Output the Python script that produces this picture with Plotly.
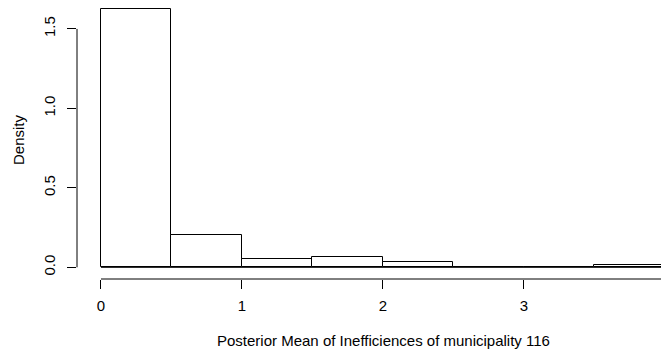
import plotly.graph_objects as go

# Histogram data (bins of width 0.5)
breaks = [0.0, 0.5, 1.0, 1.5, 2.0, 2.5, 3.0, 3.5, 4.0]
density = [1.626, 0.205, 0.050, 0.067, 0.036, 0.0, 0.0, 0.017]
x_ticks = [0, 1, 2, 3, 4]
y_ticks = [0.0, 0.5, 1.0, 1.5]
y_tick_labels = ["0.0", "0.5", "1.0", "1.5"]
x_title = "Posterior Mean of Inefficiences of municipality 116"
y_title = "Density"

centers = [(breaks[i] + breaks[i + 1]) / 2 for i in range(len(density))]
widths = [breaks[i + 1] - breaks[i] for i in range(len(density))]

FONT = "Liberation Sans, Arial, Helvetica, sans-serif"
FS = 15
XR = [-0.17, 3.972]
YR = [-0.0735, 1.682]

fig = go.Figure()
fig.add_trace(go.Bar(
    x=centers, y=density, width=widths,
    marker=dict(color="white", line=dict(color="black", width=1)),
    showlegend=False, hoverinfo="x+y",
))

# baseline (zero-height bins in R still draw their bottom edge)
fig.add_shape(type="line", xref="x", yref="y",
              x0=breaks[0], x1=breaks[-1], y0=0, y1=0,
              line=dict(color="black", width=1), layer="above")
# R-style axis lines spanning only the tick range
fig.add_shape(type="line", xref="paper", yref="paper",
              x0=(x_ticks[0] - XR[0]) / (XR[1] - XR[0]),
              x1=(x_ticks[-1] - XR[0]) / (XR[1] - XR[0]),
              y0=0, y1=0,
              line=dict(color="black", width=1))
fig.add_shape(type="line", xref="paper", yref="y",
              x0=0, x1=0, y0=y_ticks[0], y1=y_ticks[-1],
              line=dict(color="black", width=1))

fig.update_layout(
    width=661, height=355,
    margin=dict(l=77, r=0, t=0, b=76),
    paper_bgcolor="white", plot_bgcolor="white",
    font=dict(family=FONT, size=FS, color="black"),
    bargap=0,
    xaxis=dict(
        range=XR, showgrid=False, zeroline=False, showline=False,
        tickvals=x_ticks, ticktext=[str(t) for t in x_ticks],
        ticks="outside", ticklen=9, tickcolor="black", tickwidth=1,
        ticklabelstandoff=4,
        tickfont=dict(size=FS, family=FONT),
    ),
    yaxis=dict(
        range=YR, showgrid=False, zeroline=False, showline=False,
        tickvals=y_ticks, ticktext=y_tick_labels,
        ticks="outside", ticklen=9, tickcolor="black", tickwidth=1,
        tickangle=-90, ticklabelstandoff=6,
        tickfont=dict(size=FS, family=FONT),
    ),
    annotations=[
        dict(text=x_title, xref="paper", yref="paper", x=(383 - 77) / 584, y=0,
             yshift=-61, showarrow=False, xanchor="center", yanchor="middle",
             font=dict(size=FS, family=FONT)),
        dict(text=y_title, xref="paper", yref="paper", x=0, xshift=-59, y=(279 - 140) / 279,
             showarrow=False, textangle=-90, xanchor="center", yanchor="middle",
             font=dict(size=FS, family=FONT)),
    ],
)

fig.write_html("out.html", config={"displayModeBar": False},
               post_script="document.body.style.margin='0';")
